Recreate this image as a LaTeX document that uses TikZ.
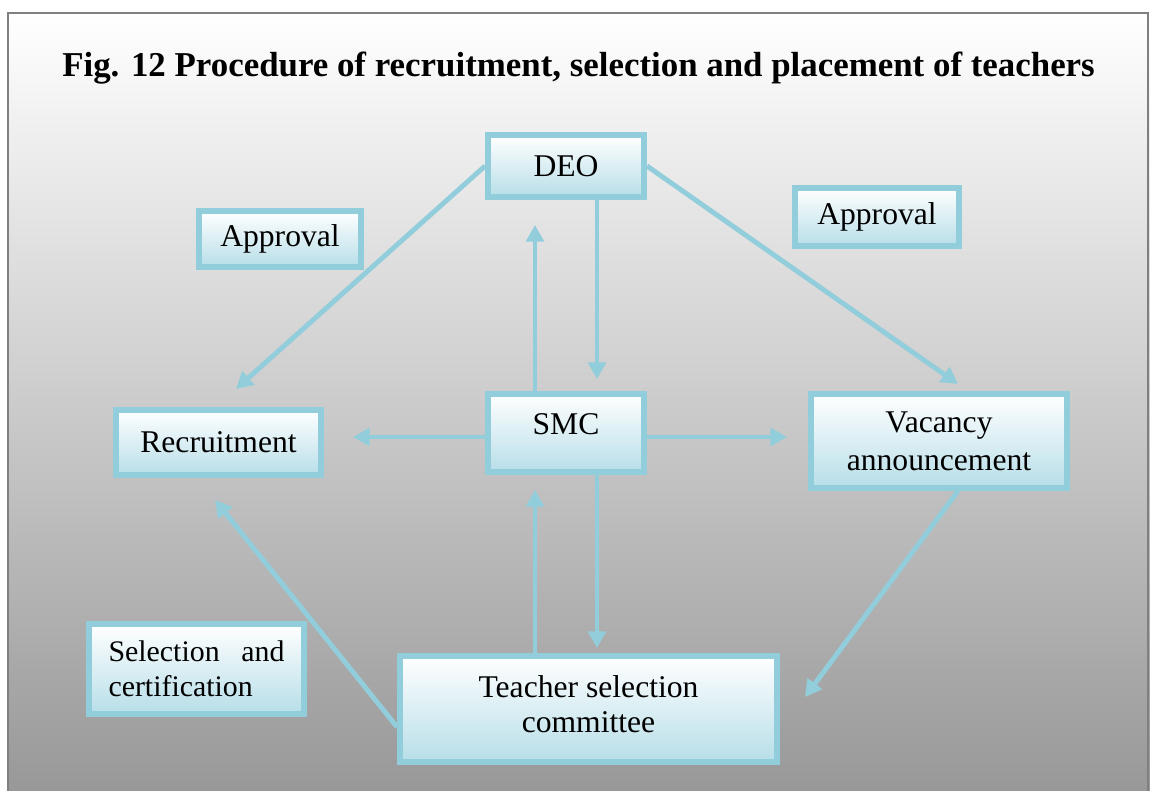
\documentclass[tikz,border=0pt]{standalone}
\usepackage{fontspec}
\setmainfont{Liberation Serif}
\usetikzlibrary{arrows.meta,backgrounds}
\definecolor{aquaedge}{RGB}{146,205,220}
\definecolor{aquafill}{RGB}{183,222,232}
\definecolor{framegray}{RGB}{128,128,128}
\definecolor{bottomgray}{RGB}{152,152,152}
\tikzset{stagebox/.style={draw=aquaedge,line width=3.4pt,top color=white,bottom color=aquafill,
        font=\fontsize{18}{20}\selectfont,align=center,inner sep=0pt},
    flow/.style={draw=aquaedge,line width=2.8pt,-{Triangle[length=9.5pt,width=10pt]}},
    headline/.style={font=\bfseries\fontsize{19.85}{24}\selectfont,anchor=base}
}

\begin{document}
\begin{tikzpicture}[x=0.02cm,y=-0.02cm]
\useasboundingbox (0,0) rectangle (1150,791);

\node[headline] (title) at (578.5,76) {Fig. 12 Procedure of recruitment, selection and placement of teachers};

% boxes
\node[stagebox,minimum width=3.12cm,minimum height=1.24cm] (deo) at (566,166) {DEO};
\node[stagebox,minimum width=3.24cm,minimum height=1.12cm] (apprL) at (280,239) {Approval};
\node[stagebox,minimum width=3.28cm,minimum height=1.16cm] (apprR) at (877,217) {Approval};
\node[stagebox,minimum width=4.1cm,minimum height=1.3cm] (recr) at (218.5,442.5) {Recruitment};
\node[stagebox,minimum width=3.12cm,minimum height=1.56cm,text height=12pt,text depth=10pt] (smc) at (566,433) {SMC};
\node[stagebox,font=\fontsize{18}{21.5}\selectfont,minimum width=5.12cm,minimum height=1.88cm] (vac) at (939,441) {Vacancy\\announcement};
\node[stagebox,font=\fontsize{17}{20}\selectfont,align=left,text width=3.52cm,minimum width=4.3cm,minimum height=1.8cm] (selc) at (196.5,669) {Selection\hfill and\\certification};
\node[stagebox,minimum width=7.54cm,minimum height=2.12cm,text depth=5.7pt] (tsc) at (588.5,709) {Teacher selection\\committee};

\coordinate (recTip) at (236,389);
\coordinate (vacTip) at (958,384);
\coordinate (tscTip) at (805,697);
\coordinate (recLow) at (215,500);

\begin{scope}[on background layer]
\shade[top color=white,bottom color=bottomgray] (8,13) rectangle (1150,791);
\draw[framegray,line width=1.2pt] (8,800) -- (8,13) -- (1148,13) -- (1148,800);

% connectors
\draw[flow] (deo.west) -- (recTip);
\draw[flow] (deo.east) -- (vacTip);
\draw[flow,shorten >=0.24cm] ([xshift=0.62cm]deo.south) -- ([xshift=0.62cm]deo.south |- smc.north);
\draw[flow,shorten >=0.5cm] ([xshift=-0.62cm]smc.north) -- ([xshift=-0.62cm]smc.north |- deo.south);
\draw[flow,shorten >=0.58cm] ([yshift=-0.08cm]smc.west) -- ([yshift=-0.08cm]smc.west -| recr.east);
\draw[flow,shorten >=0.42cm] ([yshift=-0.08cm]smc.east) -- ([yshift=-0.08cm]smc.east -| vac.west);
\draw[flow,shorten >=0.1cm] ([xshift=0.62cm]smc.south) -- ([xshift=0.62cm]smc.south |- tsc.north);
\draw[flow,shorten >=0.3cm] ([xshift=-0.62cm]smc.south |- tsc.north) -- ([xshift=-0.62cm]smc.south);
\draw[flow] ([xshift=0.38cm]vac.south) -- (tscTip);
\draw[flow] ([yshift=-0.36cm]tsc.west) -- (recLow);
\end{scope}
\end{tikzpicture}
\end{document}
